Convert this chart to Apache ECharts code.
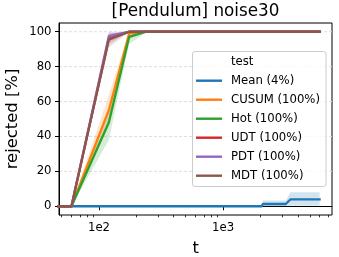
<!DOCTYPE html>
<html>
<head>
<meta charset="utf-8">
<script src="https://cdn.jsdelivr.net/npm/echarts@6/dist/echarts.min.js"></script>
<style>html,body{margin:0;padding:0;background:#fff}#c{width:339px;height:257px}</style>
</head>
<body>
<div id="c"></div>
<script>
// ---- data ----
const tRise = [1, 60, 120, 175, 240, 6000];
const cusum   = [0, 0, 55, 99, 100, 100];
const cusumLo = [0, 0, 49, 96, 100, 100];
const cusumHi = [0, 0, 64, 100, 100, 100];
const hot     = [0, 0, 48, 97, 100, 100];
const hotLo   = [0, 0, 38, 93, 99.5, 100];
const hotHi   = [0, 0, 53, 99.5, 100, 100];
const udt     = [0, 0, 96, 100, 100, 100];
const udtLo   = [0, 0, 93, 100, 100, 100];
const udtHi   = [0, 0, 99, 100, 100, 100];
const pdt     = [0, 0, 97.5, 100, 100, 100];
const pdtLo   = [0, 0, 94.5, 100, 100, 100];
const pdtHi   = [0, 0, 100, 100, 100, 100];
const mdt     = [0, 0, 95.5, 100, 100, 100];
const mdtLo   = [0, 0, 91, 100, 100, 100];
const mdtHi   = [0, 0, 99, 100, 100, 100];

const tMean  = [1, 2040, 2100, 3200, 3500, 6000];
const mean   = [0, 0, 1.3, 1.3, 4, 4];
const meanLo = [0, 0, 0, 0, 0.4, 0.4];
const meanHi = [0, 0, 3.3, 3.3, 8, 8];

const seriesNames = ['Mean (4%)', 'CUSUM (100%)', 'Hot (100%)', 'UDT (100%)', 'PDT (100%)', 'MDT (100%)'];
const xMajorTicks = [100, 1000];
const xMinorTicks = [50, 60, 70, 80, 90, 200, 300, 400, 500, 600, 700, 800, 900, 2000, 3000, 4000, 5000, 6000, 7000];
const yTicks = [0, 20, 40, 60, 80, 100];
const xLimits = [47.6, 7551];
const yLimits = [-5, 105];

// ---- styling ----
const colors = ['#1f77b4', '#ff7f0e', '#2ca02c', '#d62728', '#9467bd', '#8c564b'];
const FONT = 'DejaVu Sans';

const lines = [
  {t: tMean, v: mean, lo: meanLo, hi: meanHi},
  {t: tRise, v: cusum, lo: cusumLo, hi: cusumHi},
  {t: tRise, v: hot, lo: hotLo, hi: hotHi},
  {t: tRise, v: udt, lo: udtLo, hi: udtHi},
  {t: tRise, v: pdt, lo: pdtLo, hi: pdtHi},
  {t: tRise, v: mdt, lo: mdtLo, hi: mdtHi}
];

const series = [];
// grid lines
series.push({
  type: 'custom', name: 'gridlines', silent: true, z: 0, clip: false,
  data: yTicks.map(v => [100, v]), encode: {x: 0, y: 1},
  renderItem: (params, api) => {
    const v = api.value(1);
    const p1 = api.coord([xLimits[0], v]);
    const p2 = api.coord([xLimits[1], v]);
    return {type: 'line', shape: {x1: p1[0], y1: p1[1], x2: p2[0], y2: p2[1]},
      style: {stroke: '#dedede', lineWidth: 1, lineDash: [3, 2]}};
  }
});
// bands
lines.forEach((s, k) => {
  series.push({
    type: 'custom', name: seriesNames[k] + ' band', silent: true, z: 1, clip: true,
    data: [[100, 50]], encode: {x: 0, y: 1},
    renderItem: (params, api) => {
      const pts = [];
      for (let i = 0; i < s.t.length; i++) pts.push(api.coord([s.t[i], s.hi[i]]));
      for (let i = s.t.length - 1; i >= 0; i--) pts.push(api.coord([s.t[i], s.lo[i]]));
      return {type: 'polygon', shape: {points: pts}, style: {fill: colors[k], opacity: 0.2}};
    }
  });
});
// lines
lines.forEach((s, k) => {
  series.push({
    type: 'line', name: seriesNames[k], z: 2, clip: true,
    data: s.t.map((x, i) => [x, s.v[i]]),
    showSymbol: false, symbol: 'none', silent: true,
    lineStyle: {color: colors[k], width: 2.3, join: 'round', cap: 'square'},
    itemStyle: {color: colors[k]},
    emphasis: {disabled: true}
  });
});

const chart = echarts.init(document.getElementById('c'), null, {renderer: 'canvas'});
chart.setOption({
  animation: false,
  backgroundColor: '#ffffff',
  grid: {left: 59, right: 7, top: 23, bottom: 42, show: true, borderColor: '#000', borderWidth: 1, backgroundColor: 'transparent'},
  xAxis: [{
    type: 'log', logBase: 10, min: xLimits[0], max: xLimits[1], position: 'bottom',
    axisLine: {show: true, lineStyle: {color: '#000', width: 1}},
    axisTick: {show: true, customValues: xMajorTicks, length: 4, lineStyle: {color: '#000', width: 1}},
    axisLabel: {show: true, customValues: xMajorTicks, margin: 7, color: '#000', fontFamily: FONT, fontSize: 11.7,
      formatter: v => '1e' + Math.round(Math.log10(v))},
    splitLine: {show: false}, minorTick: {show: false}
  }, {
    type: 'log', logBase: 10, min: xLimits[0], max: xLimits[1], position: 'bottom', offset: 0,
    axisLine: {show: false},
    axisTick: {show: true, customValues: xMinorTicks, length: 2.3, lineStyle: {color: '#000', width: 0.8}},
    axisLabel: {show: false},
    splitLine: {show: false}
  }],
  yAxis: {
    type: 'value', min: yLimits[0], max: yLimits[1],
    axisLine: {show: true, lineStyle: {color: '#000', width: 1}},
    axisTick: {show: true, customValues: yTicks, length: 4, lineStyle: {color: '#000', width: 1}},
    axisLabel: {show: true, customValues: yTicks, margin: 7.5, color: '#000', fontFamily: FONT, fontSize: 11.7},
    splitLine: {show: false}
  },
  legend: {
    data: seriesNames, orient: 'vertical', left: 196, top: 71.2, padding: 0,
    itemWidth: 26, itemHeight: 2.4, itemGap: 0, icon: 'rect', selectedMode: false, z: 10,
    textStyle: {fontFamily: FONT, fontSize: 11.7, color: '#000', lineHeight: 19, padding: [0, 0, 0, 4]}
  },
  graphic: [
    {type: 'rect', z: 5, shape: {x: 192.5, y: 51.5, width: 133.5, height: 135, r: 2.5},
      style: {fill: 'rgba(255,255,255,0.8)', stroke: '#cccccc', lineWidth: 1}},
    {type: 'text', z: 11, x: 231, y: 61.7, style: {text: 'test', fontFamily: FONT, fontSize: 11.7, fill: '#000',
      textAlign: 'left', textVerticalAlign: 'middle', align: 'left', verticalAlign: 'middle'}},
    {type: 'text', z: 11, x: 195.5, y: 11.5, style: {text: '[Pendulum] noise30', fontFamily: FONT, fontSize: 16.8, fill: '#000',
      textAlign: 'center', textVerticalAlign: 'middle', align: 'center', verticalAlign: 'middle'}},
    {type: 'text', z: 11, x: 195.7, y: 248.5, style: {text: 't', fontFamily: FONT, fontSize: 16.4, fill: '#000',
      textAlign: 'center', textVerticalAlign: 'middle', align: 'center', verticalAlign: 'middle'}},
    {type: 'text', z: 11, x: 12.5, y: 119, rotation: Math.PI / 2, style: {text: 'rejected [%]', fontFamily: FONT, fontSize: 16.4, fill: '#000',
      textAlign: 'center', textVerticalAlign: 'middle', align: 'center', verticalAlign: 'middle'}}
  ],
  series: series
});
</script>
</body>
</html>
